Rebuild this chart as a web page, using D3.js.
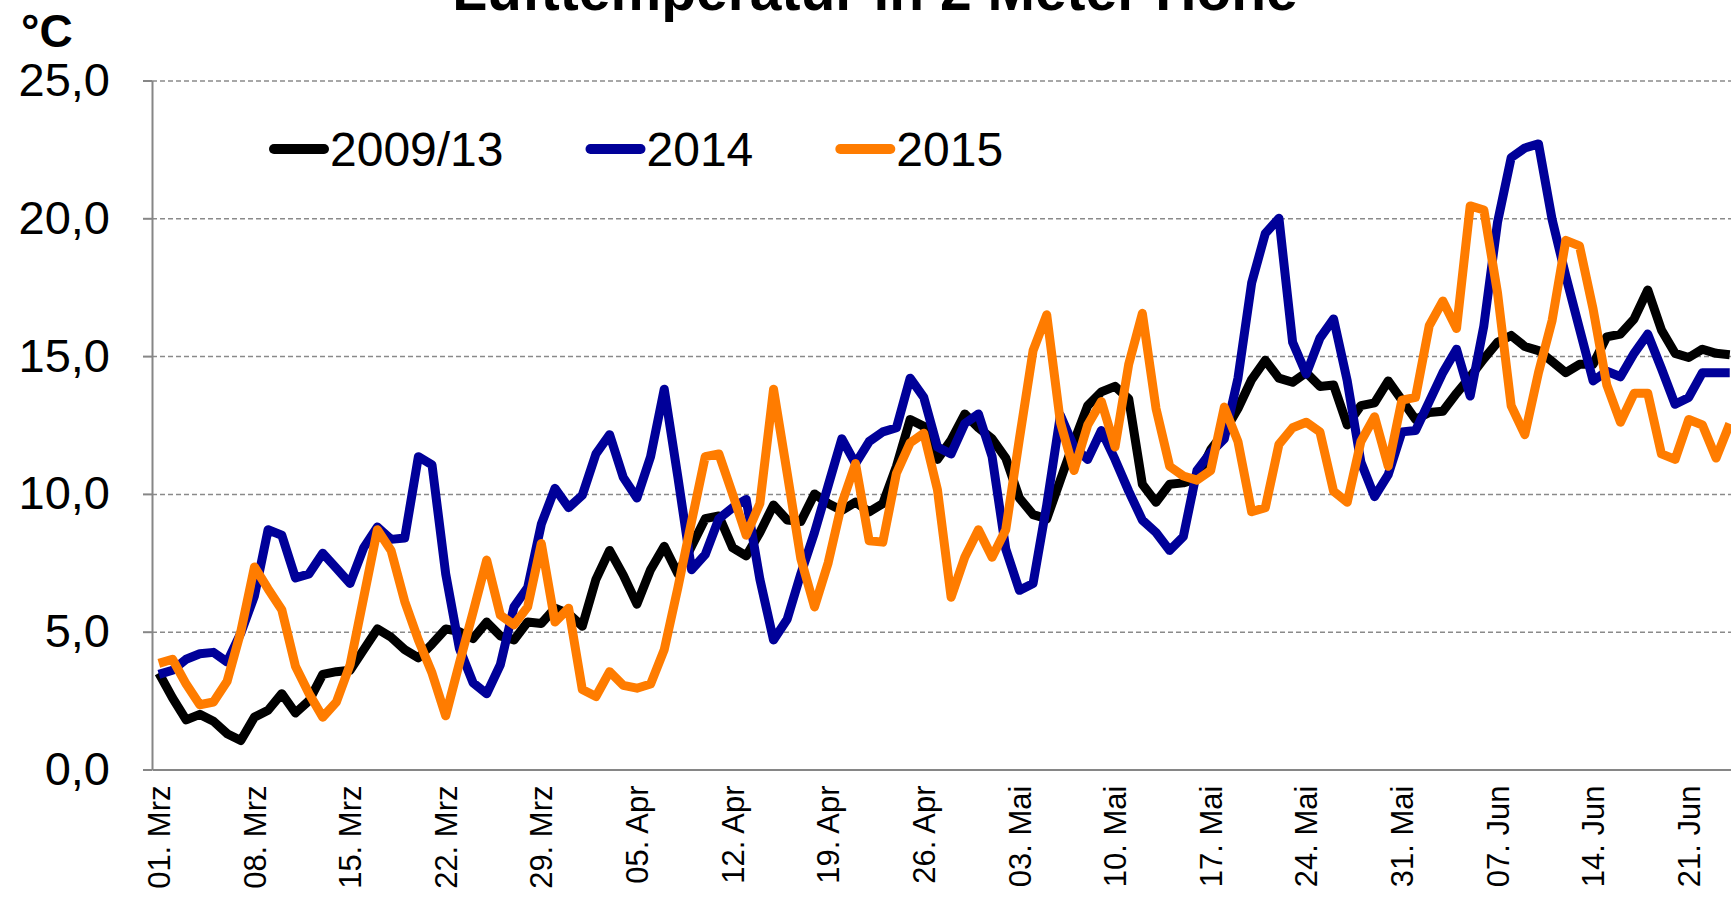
<!DOCTYPE html>
<html>
<head>
<meta charset="utf-8">
<script src="https://d3js.org/d3.v7.min.js"></script>
<style>
	body { margin: 0; background: #fff; overflow: hidden; }
	svg { display: block; font-family: "Liberation Sans", Arial, sans-serif; }
</style>
</head>
<body>
<div id="chart"></div>
<script>

// daily air temperature (°C), 01. Mrz .. 24. Jun
var series = ["2009/13", "2014", "2015"];
var colors = ["#000000", "#000099", "#ff7c00"];

var vals0913 = [
	3.5, 2.6, 1.8, 2.0, 1.75, 1.3, 1.05, 1.9, 2.15, 2.75,
	2.05, 2.5, 3.45, 3.55, 3.6, 4.35, 5.1, 4.8, 4.35, 4.05,
	4.55, 5.1, 5.0, 4.75, 5.35, 4.85, 4.7, 5.35, 5.3, 5.85,
	5.65, 5.2, 6.9, 7.95, 7.05, 6.0, 7.25, 8.1, 7.1, 8.1,
	9.1, 9.2, 8.05, 7.75, 8.6, 9.6, 9.05, 9.0, 10.0, 9.65,
	9.4, 9.7, 9.35, 9.65, 11.0, 12.7, 12.45, 11.25, 11.95, 12.9,
	12.4, 12.0, 11.3, 9.85, 9.25, 9.1, 10.5, 11.9, 13.2, 13.7,
	13.9, 13.45, 10.35, 9.7, 10.35, 10.4, 10.55, 11.6, 12.25, 13.1,
	14.15, 14.85, 14.2, 14.05, 14.4, 13.9, 13.95, 12.5, 13.2, 13.3,
	14.1, 13.4, 12.7, 12.95, 13.0, 13.65, 14.25, 14.9, 15.5, 15.75,
	15.35, 15.2, 14.8, 14.4, 14.7, 14.7, 15.7, 15.8, 16.35, 17.4,
	15.95, 15.1, 14.95, 15.25, 15.1, 15.05
];

var vals2014 = [
	3.45, 3.6, 4.0, 4.2, 4.25, 3.9, 4.95, 6.3, 8.7, 8.5,
	6.95, 7.1, 7.85, 7.3, 6.75, 8.05, 8.8, 8.35, 8.4, 11.35,
	11.05, 7.1, 4.4, 3.15, 2.75, 3.8, 5.9, 6.6, 8.9, 10.2,
	9.5, 9.95, 11.45, 12.15, 10.6, 9.85, 11.35, 13.8, 10.6, 7.25,
	7.8, 9.1, 9.5, 9.8, 6.9, 4.7, 5.45, 7.1, 8.6, 10.3,
	12.0, 11.1, 11.9, 12.25, 12.4, 14.2, 13.5, 11.7, 11.45, 12.55,
	12.9, 11.35, 8.0, 6.5, 6.75, 9.6, 12.85, 11.7, 11.25, 12.3,
	11.25, 10.1, 9.05, 8.6, 7.95, 8.45, 10.85, 11.5, 12.0, 14.2,
	17.65, 19.45, 20.0, 15.5, 14.35, 15.65, 16.35, 14.1, 11.15, 9.9,
	10.7, 12.25, 12.3, 13.35, 14.4, 15.25, 13.55, 16.1, 19.85, 22.2,
	22.55, 22.7, 19.95, 17.9, 16.0, 14.1, 14.45, 14.25, 15.1, 15.8,
	14.55, 13.25, 13.5, 14.4, 14.4, 14.4
];

var vals2015 = [
	3.85, 4.0, 3.1, 2.35, 2.45, 3.2, 5.0, 7.35, 6.55, 5.8,
	3.75, 2.75, 1.9, 2.45, 3.8, 6.25, 8.7, 7.95, 6.1, 4.7,
	3.5, 1.95, 3.85, 5.7, 7.6, 5.6, 5.25, 5.9, 8.2, 5.35,
	5.85, 2.9, 2.65, 3.55, 3.05, 2.95, 3.1, 4.35, 6.6, 9.0,
	11.35, 11.45, 10.0, 8.5, 9.65, 13.8, 10.75, 7.65, 5.9, 7.5,
	9.65, 11.1, 8.3, 8.25, 10.75, 11.85, 12.2, 10.15, 6.25, 7.7,
	8.7, 7.7, 8.7, 12.0, 15.2, 16.5, 12.6, 10.85, 12.5, 13.35,
	11.7, 14.7, 16.55, 13.1, 11.0, 10.65, 10.5, 10.85, 13.15, 11.9,
	9.35, 9.5, 11.8, 12.4, 12.6, 12.25, 10.1, 9.7, 11.9, 12.8,
	11.0, 13.4, 13.5, 16.1, 17.0, 16.0, 20.45, 20.3, 17.3, 13.2,
	12.15, 14.4, 16.3, 19.2, 19.0, 16.7, 13.95, 12.6, 13.65, 13.65,
	11.45, 11.25, 12.7, 12.5, 11.3, 12.55
];

// categories: one per day
var days = d3.timeDay.range(new Date(2015, 2, 1), new Date(2015, 5, 25));

// x tick labels, one every 7 days
var xTickLabels = ["01. Mrz", "08. Mrz", "15. Mrz", "22. Mrz", "29. Mrz", "05. Apr", "12. Apr",
	"19. Apr", "26. Apr", "03. Mai", "10. Mai", "17. Mai", "24. Mai", "31. Mai", "07. Jun",
	"14. Jun", "21. Jun"];
var yTicks = [0, 5, 10, 15, 20, 25];
var yTickLabels = ["0,0", "5,0", "10,0", "15,0", "20,0", "25,0"];


/*
 *	CHART PROPERTIES
 */
var width = 1731, height = 897;
var margin = { top: 80.5, left: 152, bottom: 127.5 },
	step = 13.66;	// px per day

var svg = d3.select("#chart").append("svg")
	.attr("width", width)
	.attr("height", height);

var x = d3.scaleBand()
	.domain(days)
	.range([margin.left, margin.left + days.length * step]);

var y = d3.scaleLinear()
	.domain([0, 25])
	.range([height - margin.bottom, margin.top]);

// dashed gridlines
var grid = svg.append("g")
	.attr("transform", "translate(" + margin.left + ",0)")
	.call(d3.axisLeft(y).tickValues(yTicks.slice(1)).tickSize(-(width - margin.left + 20)).tickFormat(""));
grid.select(".domain").remove();
grid.selectAll("line")
	.attr("stroke", "#8a8a8a")
	.attr("stroke-width", 1.5)
	.attr("stroke-dasharray", "5,3");

// y axis
var yAxis = svg.append("g")
	.attr("transform", "translate(" + margin.left + ",0)")
	.call(d3.axisLeft(y).tickValues(yTicks).tickSize(9).tickSizeOuter(0).tickPadding(33)
		.tickFormat(function(d, i){ return yTickLabels[i] }));
yAxis.selectAll("line").attr("stroke", "#868686").attr("stroke-width", 2);
yAxis.select(".domain").attr("stroke", "#868686").attr("stroke-width", 2);
yAxis.selectAll("text")
	.attr("fill", "#000")
	.style("font-size", "47px");

// x axis (labels rotated)
var tickDays = days.filter(function(d, i){ return i % 7 == 0 });
var xAxis = svg.append("g")
	.attr("transform", "translate(0," + (height - margin.bottom) + ")")
	.call(d3.axisBottom(x).tickValues(tickDays).tickSize(0).tickSizeOuter(0)
		.tickFormat(function(d, i){ return xTickLabels[i] }));
xAxis.select(".domain").attr("stroke", "#868686").attr("stroke-width", 2);
xAxis.selectAll("text")
	.attr("fill", "#000")
	.style("font-size", "31px")
	.style("text-anchor", "end")
	.attr("transform", "rotate(-90)")
	.attr("x", -16)
	.attr("y", 0)
	.attr("dy", "0.36em");

// lines
var line = d3.line()
	.x(function(d, i){ return x(days[i]) + x.bandwidth() / 2 })
	.y(function(d){ return y(d) });

var allVals = [vals0913, vals2014, vals2015];
svg.append("g").selectAll("path")
	.data(allVals).enter()
	.append("path")
		.attr("d", line)
		.attr("fill", "none")
		.attr("stroke", function(d, i){ return colors[i] })
		.attr("stroke-width", 9)
		.attr("stroke-linejoin", "round");

// legend
var lx = 270;
series.forEach(function(s, i){
	var g = svg.append("g").attr("transform", "translate(" + lx + ",0)");
	g.append("line")
		.attr("x1", 4).attr("x2", 54)
		.attr("y1", 149).attr("y2", 149)
		.attr("stroke", colors[i])
		.attr("stroke-width", 10)
		.attr("stroke-linecap", "round");
	var t = g.append("text")
		.attr("x", 60).attr("y", 166)
		.style("font-size", "48px")
		.text(s);
	lx += 60 + t.node().getComputedTextLength() + 83;
});

// unit + title
svg.append("text")
	.attr("x", 21).attr("y", 47)
	.style("font-size", "46px")
	.style("font-weight", "bold")
	.text("°C");

svg.append("text")
	.attr("x", 875).attr("y", 10)
	.attr("text-anchor", "middle")
	.style("font-size", "57px")
	.style("font-weight", "bold")
	.text("Lufttemperatur in 2 Meter Höhe");

</script>
</body>
</html>
